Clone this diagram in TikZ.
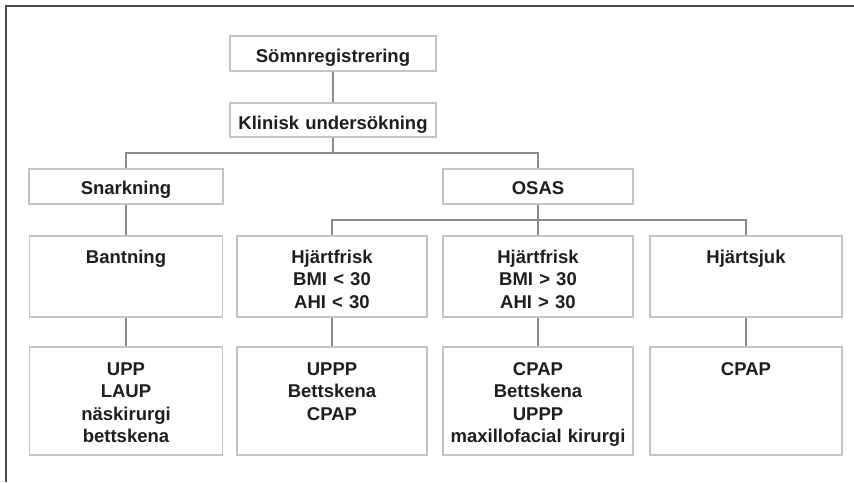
\documentclass[tikz,border=0pt]{standalone}
\usepackage{fontspec}
\setmainfont{Liberation Sans}
\definecolor{boxgray}{HTML}{C4C4C4}
\definecolor{linegray}{HTML}{8C8C8C}
\definecolor{framegray}{HTML}{4A4A4A}
\definecolor{txtcol}{HTML}{1E1E1E}
\begin{document}
\begin{tikzpicture}[x=1pt,y=-1pt,
  box/.style={draw=boxgray,line width=1.3pt,rectangle,inner sep=0pt,fill=white},
  txt/.style={anchor=base,inner sep=0pt,text width=190pt,align=center,text=txtcol,
    font=\fontsize{18.5}{22.5}\selectfont\bfseries},
  conn/.style={draw=linegray,line width=1.4pt}]
\useasboundingbox (0,0) rectangle (854,482);
\draw[framegray,line width=2pt] (5.5,482) -- (5.5,5.5) -- (854,5.5);
% top boxes
\node[box,minimum width=206pt,minimum height=35pt] (sr) at (333,53.5) {};
\node[txt] (srt) at (333,62) {Sömnregistrering};
\node[box,minimum width=206pt,minimum height=34pt] (ku) at (333,120) {};
\node[txt] (kut) at (333,129) {Klinisk undersökning};
% second level
\node[box,minimum width=194pt,minimum height=35pt] (sn) at (126,186.5) {};
\node[txt] (snt) at (126,194) {Snarkning};
\node[box,minimum width=190pt,minimum height=35pt] (os) at (538,186.5) {};
\node[txt] (ost) at (538,194) {OSAS};
% third level
\node[box,minimum width=193pt,minimum height=81pt] (ba) at (126,276.5) {};
\node[txt] (bat) at (126,263) {Bantning};
\node[box,minimum width=190pt,minimum height=81pt] (h1) at (332,276.5) {};
\node[txt] (h1t) at (332,263) {Hjärtfrisk\\BMI < 30\\AHI < 30};
\node[box,minimum width=190pt,minimum height=81pt] (h2) at (538,276.5) {};
\node[txt] (h2t) at (538,263) {Hjärtfrisk\\BMI > 30\\AHI > 30};
\node[box,minimum width=192pt,minimum height=81pt] (hs) at (746,276.5) {};
\node[txt] (hst) at (746,263) {Hjärtsjuk};
% fourth level
\node[box,minimum width=193pt,minimum height=108pt] (ta) at (126,401) {};
\node[txt] (tat) at (126,375) {UPP\\LAUP\\näskirurgi\\bettskena};
\node[box,minimum width=190pt,minimum height=108pt] (tb) at (332,401) {};
\node[txt] (tbt) at (332,375) {UPPP\\Bettskena\\CPAP};
\node[box,minimum width=190pt,minimum height=108pt] (tc) at (538,401) {};
\node[txt] (tct) at (538,375) {CPAP\\Bettskena\\UPPP\\maxillofacial kirurgi};
\node[box,minimum width=192pt,minimum height=108pt] (td) at (746,401) {};
\node[txt] (tdt) at (746,375) {CPAP};
% connectors
\coordinate (j1) at (333,153);
\coordinate (j2) at (538,220);
\draw[conn] (sr.south) -- (ku.north);
\draw[conn] (ku.south) -- (j1);
\draw[conn] (sn.north) |- (os.north |- j1) -- (os.north);
\draw[conn] (sn.south) -- (ba.north);
\draw[conn] (os.south) -- (j2);
\draw[conn] (h1.north) |- (hs.north |- j2) -- (hs.north);
\draw[conn] (h2.north) -- (j2);
\draw[conn] (ba.south) -- (ta.north);
\draw[conn] (h1.south) -- (tb.north);
\draw[conn] (h2.south) -- (tc.north);
\draw[conn] (hs.south) -- (td.north);
\end{tikzpicture}
\end{document}
